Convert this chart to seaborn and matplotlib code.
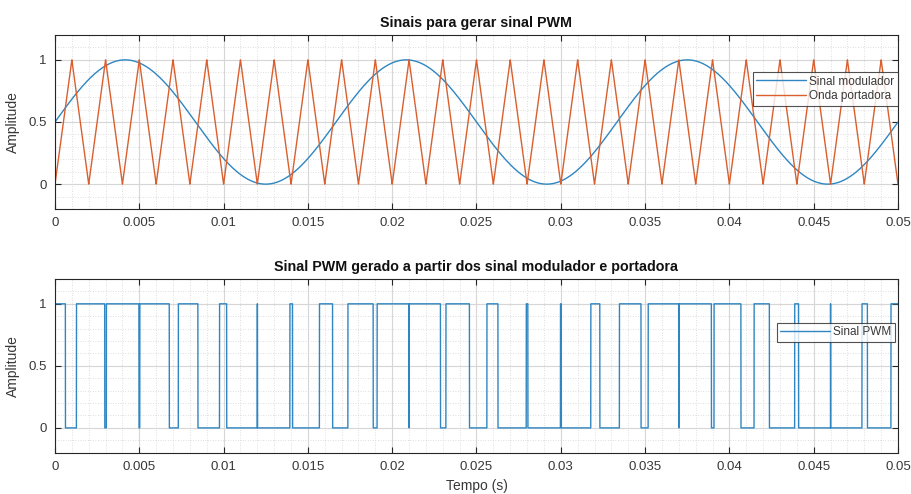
import numpy as np
import pandas as pd
import matplotlib
matplotlib.use("Agg")
import matplotlib.pyplot as plt
from matplotlib.ticker import MultipleLocator
import seaborn as sns

# Modulating sine wave parameters
mod_freq_hz = 60.0
mod_offset = 0.5
mod_amplitude = 0.5

# Triangular carrier parameters
carrier_freq_hz = 500.0
carrier_min = 0.0
carrier_max = 1.0

# Time span and sampling
t_start, t_end = 0.0, 0.05
n_samples = 50001

x_ticks = [0, 0.005, 0.01, 0.015, 0.02, 0.025, 0.03, 0.035, 0.04, 0.045, 0.05]
x_tick_labels = ["0", "0.005", "0.01", "0.015", "0.02", "0.025", "0.03",
                 "0.035", "0.04", "0.045", "0.05"]
y_ticks = [0, 0.5, 1]
y_tick_labels = ["0", "0.5", "1"]

t = np.linspace(t_start, t_end, n_samples)
modulator = mod_offset + mod_amplitude * np.sin(2 * np.pi * mod_freq_hz * t)
phase = (t * carrier_freq_hz) % 1.0
carrier = carrier_min + (carrier_max - carrier_min) * (1 - np.abs(2 * phase - 1))
pwm = (modulator > carrier).astype(float)

df_top = pd.concat([
    pd.DataFrame({"t": t, "v": modulator, "sinal": "Sinal modulador"}),
    pd.DataFrame({"t": t, "v": carrier, "sinal": "Onda portadora"}),
])
df_pwm = pd.DataFrame({"t": t, "v": pwm, "sinal": "Sinal PWM"})

sns.set_theme(style="ticks")
plt.rcParams["font.family"] = ["Liberation Sans", "DejaVu Sans"]

BLUE = "#2f86c2"
ORANGE = "#da5f2e"
SPINE = "#262626"
TEXT = "#383838"

fig = plt.figure(figsize=(9.12, 4.94), dpi=100)
W, H = 912, 494
ax1 = fig.add_axes([55 / W, 1 - 209 / H, 843 / W, 174 / H])
ax2 = fig.add_axes([55 / W, 1 - 452.7 / H, 843 / W, 173.7 / H])

sns.lineplot(data=df_top, x="t", y="v", hue="sinal",
             palette={"Sinal modulador": BLUE, "Onda portadora": ORANGE},
             estimator=None, sort=False, linewidth=1.0, ax=ax1)
sns.lineplot(data=df_pwm, x="t", y="v", hue="sinal",
             palette={"Sinal PWM": BLUE},
             estimator=None, sort=False, linewidth=1.0, ax=ax2)

for ax in (ax1, ax2):
    ax.set_xlim(t_start, t_end)
    ax.set_ylim(-0.2, 1.2)
    ax.set_xticks(x_ticks)
    ax.set_xticklabels(x_tick_labels)
    ax.set_yticks(y_ticks)
    ax.set_yticklabels(y_tick_labels)
    ax.xaxis.set_minor_locator(MultipleLocator(0.001))
    ax.yaxis.set_minor_locator(MultipleLocator(0.1))
    ax.grid(True, which="major", color="#d6d6d6", linewidth=0.8)
    ax.grid(True, which="minor", color="#d4d4d4", linewidth=0.6, linestyle=(0, (1, 2)))
    ax.set_axisbelow(True)
    ax.tick_params(which="major", direction="in", length=4, width=0.8,
                   top=True, right=True, labelsize=9.5, colors=SPINE,
                   labelcolor=TEXT, pad=6)
    ax.tick_params(which="minor", length=0, top=True, right=True)
    for s in ax.spines.values():
        s.set_color(SPINE)
        s.set_linewidth(0.8)
    ax.set_ylabel("Amplitude", fontsize=10, color=TEXT, labelpad=6)
    ax.set_xlabel("")

ax1.set_title("Sinais para gerar sinal PWM", fontsize=10.3, fontweight="bold",
              pad=6, color="#111111")
ax2.set_title("Sinal PWM gerado a partir dos sinal modulador e portadora",
              fontsize=10.3, fontweight="bold", pad=6, color="#111111")
ax2.set_xlabel("Tempo (s)", fontsize=10, color=TEXT, labelpad=4)

for ax, anchor in ((ax1, (1.0, 0.787)), (ax2, (0.9965, 0.747))):
    leg = ax.legend(loc="upper right", bbox_to_anchor=anchor, fontsize=8.5,
                    frameon=True, fancybox=False, handlelength=4.2,
                    handletextpad=0.3, borderpad=0.3, labelspacing=0.2,
                    borderaxespad=0.0)
    leg.get_frame().set_edgecolor(SPINE)
    leg.get_frame().set_linewidth(0.8)
    for txt in leg.get_texts():
        txt.set_color(TEXT)

fig.savefig("out.png", dpi=100)
